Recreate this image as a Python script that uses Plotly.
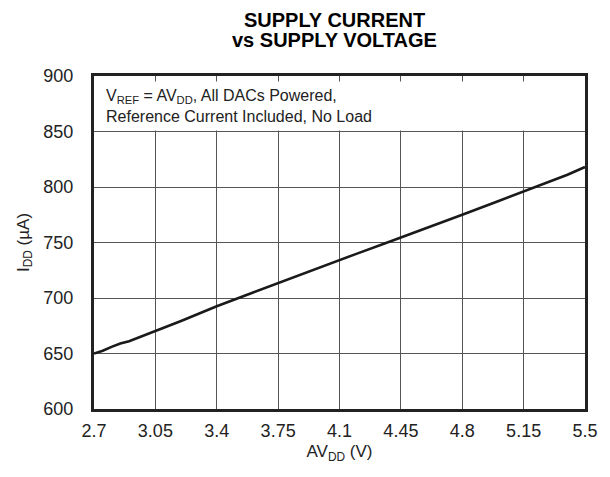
import plotly.graph_objects as go

# supply voltage (V) vs supply current (uA)
avdd = [2.7, 2.75, 2.8, 2.85, 2.9, 2.95, 3.0, 3.05, 3.1, 3.2, 3.3, 3.4, 3.6, 3.8,
        4.0, 4.2, 4.4, 4.6, 4.8, 5.0, 5.2, 5.4, 5.5]
idd = [650, 652.5, 656, 659, 661, 664, 667.5, 670, 673, 679.5, 686, 692.5, 704.5, 716.5,
       728, 740, 751.5, 763, 775, 787, 799, 811, 818]

x_ticks = [2.7, 3.05, 3.4, 3.75, 4.1, 4.45, 4.8, 5.15, 5.5]
x_tick_labels = ['2.7', '3.05', '3.4', '3.75', '4.1', '4.45', '4.8', '5.15', '5.5']
y_ticks = [600, 650, 700, 750, 800, 850, 900]

font = 'Liberation Sans, Arial, sans-serif'

fig = go.Figure()
fig.add_trace(go.Scatter(
    x=avdd, y=idd, mode='lines',
    line=dict(color='#1a1a1a', width=2.6),
    showlegend=False,
))

# white box for the condition note, hides the grid above 850 (short ticks stay)
fig.add_shape(type='rect', xref='x', yref='y', x0=2.712, x1=5.488, y0=851, y1=895,
              fillcolor='white', line=dict(width=0), layer='above')

fig.add_annotation(
    x=0.02, y=0.974, xref='paper', yref='paper', xanchor='left', yanchor='top',
    align='left', showarrow=False,
    text='V<sub>REF</sub> = AV<sub>DD</sub>, All DACs Powered,<br>Reference Current Included, No Load',
    font=dict(family=font, size=16, color='#222'),
)

# two-line bold title
fig.add_annotation(
    x=0.4905, y=1.169, xref='paper', yref='paper', xanchor='center', yanchor='middle',
    showarrow=False, text='<b>SUPPLY CURRENT</b>',
    font=dict(family=font, size=20, color='black'),
)
fig.add_annotation(
    x=0.4905, y=1.109, xref='paper', yref='paper', xanchor='center', yanchor='middle',
    showarrow=False, text='<b>vs SUPPLY VOLTAGE</b>',
    font=dict(family=font, size=20, color='black'),
)

fig.update_layout(
    width=610, height=477,
    margin=dict(l=94, r=25, t=76, b=68),
    paper_bgcolor='white', plot_bgcolor='white',
    font=dict(family=font, size=18, color='#222'),
)
fig.update_xaxes(
    range=[2.7, 5.5], tickvals=x_ticks, ticktext=x_tick_labels,
    showgrid=True, gridcolor='#555', gridwidth=1,
    showline=True, linecolor='#222', linewidth=3, mirror=True,
    ticks='', zeroline=False, ticklabelstandoff=3,
    tickfont=dict(size=18),
    title=dict(text='AV<sub>DD</sub> (V)', font=dict(size=17), standoff=6),
)
fig.update_yaxes(
    range=[600, 900], tickvals=y_ticks,
    showgrid=True, gridcolor='#555', gridwidth=1,
    showline=True, linecolor='#222', linewidth=3, mirror=True,
    ticks='', zeroline=False, ticklabelstandoff=14,
    tickfont=dict(size=18),
    title=dict(text='I<sub>DD</sub> (µA)', font=dict(size=17), standoff=10),
)

fig.write_html('out.html', config={'displayModeBar': False},
               post_script="document.body.style.margin='0';")
